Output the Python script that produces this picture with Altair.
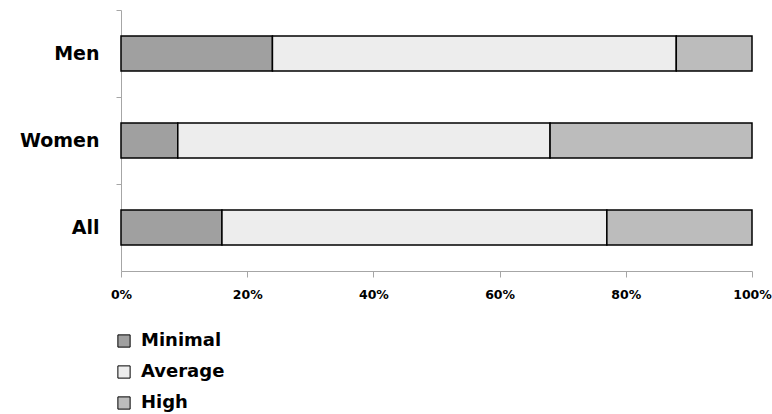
import altair as alt
import pandas as pd

# Share of each activity level by group (percent of respondents)
groups = ["Men", "Women", "All"]
levels = ["Minimal", "Average", "High"]
minimal = [24, 9, 16]
average = [64, 59, 61]
high = [12, 32, 23]

rows = []
for i, g in enumerate(groups):
    for k, (lvl, vals) in enumerate(zip(levels, [minimal, average, high])):
        rows.append({"group": g, "level": lvl, "share": vals[i], "rank": k})
df = pd.DataFrame(rows)

FONT = "DejaVu Sans"
fills = ["#a0a0a0", "#ededed", "#bcbcbc"]

bars = alt.Chart(df).mark_bar(stroke="black", strokeWidth=1.5).encode(
    x=alt.X(
        "share:Q",
        stack="normalize",
        scale=alt.Scale(domain=[0, 1], nice=False),
        axis=alt.Axis(
            format=".0%",
            values=[0, 0.2, 0.4, 0.6, 0.8, 1.0],
            title=None,
            grid=False,
            labelFlush=False,
            domainColor="#a6a6a6",
            tickColor="#a6a6a6",
            tickSize=6,
            labelPadding=11,
            labelFont=FONT,
            labelFontSize=12.5,
            labelFontWeight="bold",
            labelColor="black",
        ),
    ),
    y=alt.Y(
        "group:N",
        sort=groups,
        scale=alt.Scale(paddingInner=0.6, paddingOuter=0.3),
        axis=alt.Axis(
            title=None,
            domainColor="#a6a6a6",
            tickColor="#a6a6a6",
            tickSize=5,
            tickOffset=-43.33,
            labelOffset=43.33,
            labelPadding=17,
            labelFont=FONT,
            labelFontSize=19,
            labelFontWeight="bold",
            labelColor="black",
        ),
    ),
    color=alt.Color(
        "level:N",
        scale=alt.Scale(domain=levels, range=fills),
        legend=alt.Legend(
            title=None,
            orient="none",
            legendX=-6,
            legendY=322,
            symbolType="square",
            symbolSize=150,
            symbolStrokeColor="black",
            symbolStrokeWidth=1,
            symbolOpacity=1,
            labelFont=FONT,
            labelFontSize=18,
            labelFontWeight="bold",
            labelColor="black",
            labelOffset=8,
            rowPadding=13,
        ),
    ),
    order=alt.Order("rank:Q"),
)

chart = bars.properties(
    width=631,
    height=261,
    autosize=alt.AutoSizeParams(type="none"),
    padding={"left": 121, "top": 10, "right": 20, "bottom": 143},
).configure(background="white").configure_view(stroke=None)

chart.save("out.html", embed_options={"renderer": "svg", "actions": False})
